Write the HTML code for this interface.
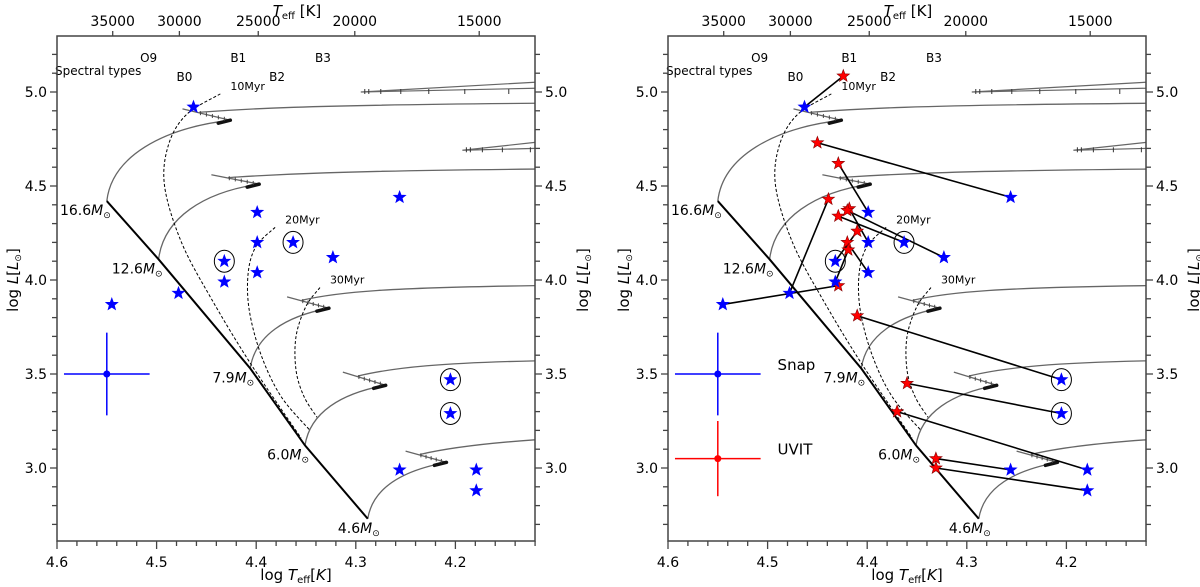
<!DOCTYPE html>
<html><head><meta charset="utf-8"><style>
html,body{margin:0;padding:0;background:#fff;}
svg{display:block;font-family:"DejaVu Sans","Liberation Sans",sans-serif;}
</style></head><body>
<svg id="chart" width="1200" height="587" viewBox="0 0 1200 587" xmlns="http://www.w3.org/2000/svg"></svg>
<script>
// ---- data (log Teff, log L) ----
const snapT = [4.463,4.399,4.399,4.432,4.363,4.399,4.432,4.323,4.256,4.478,4.545,4.205,4.205,4.256,4.179,4.179];
const snapL = [4.92,4.36,4.20,4.10,4.20,4.04,3.99,4.12,4.44,3.93,3.87,3.47,3.29,2.99,2.99,2.88];
const snapCircled = [3,4,11,12];
const uvitT = [4.424,4.429,4.418,4.410,4.429,4.420,4.419,4.420,4.450,4.439,4.429,4.410,4.360,4.331,4.370,4.331];
const uvitL = [5.085,4.62,4.38,4.26,4.34,4.20,4.16,4.37,4.73,4.43,3.97,3.81,3.45,3.05,3.30,3.00];
const zamsMass = ["16.6","12.6","7.9","6.0","4.6"];
const zamsT = [4.55,4.498,4.406,4.351,4.288];
const zamsL = [4.42,4.11,3.53,3.12,2.73];
const hookT = [4.426,4.397,4.327,4.270,4.209];
const hookL = [4.85,4.51,3.85,3.44,3.03];
const backT = [4.474,4.445,4.369,4.313,4.250];
const backL = [4.91,4.56,3.91,3.51,3.09];
const edgeL = [4.94,4.59,3.97,3.57,3.15];
const iso10T = [4.436,4.47,4.488,4.492,4.475,4.445,4.405,4.355];
const iso10L = [4.99,4.88,4.72,4.50,4.20,3.90,3.55,3.16];
const iso20T = [4.381,4.400,4.408,4.407,4.395,4.375,4.346];
const iso20L = [4.28,4.18,4.04,3.84,3.60,3.38,3.20];
const iso30T = [4.336,4.350,4.360,4.360,4.352,4.339];
const iso30L = [3.96,3.86,3.70,3.52,3.38,3.27];
const teffTicks = [35000,30000,25000,20000,15000];
const xTicks = [4.6,4.5,4.4,4.3,4.2];
const yTicks = [3.0,3.5,4.0,4.5,5.0];
const specNames = ["O9","B0","B1","B2","B3"];
const specT = [4.508,4.472,4.418,4.379,4.333];
const specRow = [0,1,0,1,0];

const NS="http://www.w3.org/2000/svg";
const svg=document.getElementById('chart');
function el(tag,attrs,parent){const e=document.createElementNS(NS,tag);for(const k in attrs)e.setAttribute(k,attrs[k]);(parent||svg).appendChild(e);return e;}
const PX=996, XL=57, XR=535, YT=36, YB=541;
function Y(l){return 92+(5-l)*188;}
function smooth(pts){let d='M'+pts[0][0]+','+pts[0][1];
  for(let i=0;i<pts.length-1;i++){const p0=pts[i-1]||pts[i],p1=pts[i],p2=pts[i+1],p3=pts[i+2]||p2;
    d+=` C${p1[0]+(p2[0]-p0[0])/6},${p1[1]+(p2[1]-p0[1])/6} ${p2[0]-(p3[0]-p1[0])/6},${p2[1]-(p3[1]-p1[1])/6} ${p2[0]},${p2[1]}`;}
  return d;}
function star(g,cx,cy,r,fill,stroke){
  let p=[];for(let i=0;i<10;i++){const a=-Math.PI/2+i*Math.PI/5;const rr=i%2?r*0.42:r;p.push((cx+rr*Math.cos(a)).toFixed(1)+','+(cy+rr*Math.sin(a)).toFixed(1));}
  return el('polygon',{points:p.join(' '),fill:fill,stroke:stroke,'stroke-width':0.6},g);
}
function txt(g,x,y,s,attrs){const t=el('text',Object.assign({x:x,y:y},attrs||{}),g);t.innerHTML=s;return t;}

function panel(ox,right){
  const X=lt=>ox+XL+(4.6-lt)*PX;
  const g=el('g',{});
  
  
  const defs=el('clipPath',{id:'clip'+ox},g);
  el('rect',{x:ox+XL,y:YT,width:XR-XL,height:YB-YT},defs);
  const pg=el('g',{'clip-path':'url(#clip'+ox+')'},g);
  // tracks
  for(let i=0;i<zamsT.length;i++){
    const x0=X(zamsT[i]),y0=Y(zamsL[i]),xh=X(hookT[i]),yh=Y(hookL[i]),xb=X(backT[i]),yb=Y(backL[i]);
    const ye=Y(edgeL[i]);
    const d=`M${x0},${y0} C${x0+5},${y0-(y0-yh)*0.55} ${xh-(xh-x0)*0.55},${yh+8} ${xh},${yh} L${xb},${yb} M${xb+(xh-xb)*0.35},${yb+(yh-yb)*0.3} C${xh+10},${ye+6} ${xh+60},${ye+2} ${ox+XR},${ye}`;
    const t=el('path',{d:d,fill:'none',stroke:'#666','stroke-width':1.3},pg);
    
    
    el('line',{x1:xh-12,y1:yh+3,x2:xh,y2:yh,stroke:'#111','stroke-width':3.5,'stroke-linecap':'round'},pg);
    for(let k=1;k<6;k++){const xx=xh+(xb-xh)*k/8,yy=yh+(yb-yh)*k/8;el('line',{x1:xx,y1:yy-2,x2:xx,y2:yy+2,stroke:'#444','stroke-width':1},pg);}
  }
  // upper horizontal branches with ticks
  [[4.295,5.0,5.02],[4.193,4.69,4.70]].forEach(b=>{
    el('path',{d:`M${X(b[0])},${Y(b[1])} L${ox+XR},${Y(b[2])} M${X(b[0])},${Y(b[1])} L${ox+XR},${Y(b[2])-6}`,stroke:'#666','stroke-width':1.2,fill:'none'},pg);
    for(let k=0;k<9;k++){const xx=X(b[0])+k*k*4+4;el('line',{x1:xx,y1:Y(b[1])-3,x2:xx,y2:Y(b[1])+2,stroke:'#333','stroke-width':1},pg);}
  });
  // isochrones
  [[iso10T,iso10L,'10Myr'],[iso20T,iso20L,'20Myr'],[iso30T,iso30L,'30Myr']].forEach(s=>{
    const pts=s[0].map((t,i)=>[X(t),Y(s[1][i])]);
    const p=el('path',{d:smooth(pts),fill:'none',stroke:'#000','stroke-width':1,'stroke-dasharray':'3,2'},pg);
    
    
    const lb=txt(pg,X(s[0][0])+10,Y(s[1][0])-4,s[2],{'font-size':11});
    
    
  });
  // ZAMS
  let zd='';zamsT.forEach((t,i)=>{zd+=(i?'L':'M')+X(t)+','+Y(zamsL[i]);});
  const z=el('path',{d:zd,fill:'none',stroke:'#000','stroke-width':2},pg);
  
  
  zamsT.forEach((t,i)=>{
    const lb=txt(g,X(t)+(i==4?12:4),Y(zamsL[i])+14,zamsMass[i]+'<tspan font-style="italic">M</tspan><tspan font-size="9" dy="3">⊙</tspan>',{'font-size':14,'text-anchor':'end'});
    
    
  });
  // spectral types
  const st=txt(g,ox+XL-2,75,'Spectral types',{'font-size':12});
  
  
  specNames.forEach((s,i)=>{const t=txt(g,X(specT[i]),specRow[i]?81:62,s,{'font-size':12,'text-anchor':'middle'});
    
    });
  // connectors + uvit
  if(right){
    snapT.forEach((t,i)=>{const l=el('line',{x1:X(t),y1:Y(snapL[i]),x2:X(uvitT[i]),y2:Y(uvitL[i]),stroke:'#000','stroke-width':1.6},pg);
      
      });
    uvitT.forEach((t,i)=>{const s=star(pg,X(t),Y(uvitL[i]),6.5,'#f00','#800');
      
      });
  }
  snapT.forEach((t,i)=>{const s=star(pg,X(t),Y(snapL[i]),6.5,'#00f','#00f');
    
    });
  snapCircled.forEach(i=>{const c=el('ellipse',{cx:X(snapT[i]),cy:Y(snapL[i]),rx:10,ry:11,fill:'none',stroke:'#000','stroke-width':1},pg);
    
    });
  // error bars
  const eb=(l,col,dl,name,lbl)=>{
    const gg=el('g',{},g);
    
    
    el('line',{x1:X(4.593),y1:Y(l),x2:X(4.507),y2:Y(l),stroke:col,'stroke-width':1.5},gg);
    el('line',{x1:X(4.55),y1:Y(l+dl),x2:X(4.55),y2:Y(l-dl),stroke:col,'stroke-width':1.5},gg);
    el('circle',{cx:X(4.55),cy:Y(l),r:3.5,fill:col},gg);
    if(lbl)txt(gg,X(4.49),Y(l)-4,lbl,{'font-size':15});
  };
  eb(3.5,'#00f',0.22,'snap-error-bar',right?'Snap':null);
  if(right)eb(3.05,'#f00',0.2,'uvit-error-bar','UVIT');
  // frame
  const f=el('rect',{x:ox+XL,y:YT,width:XR-XL,height:YB-YT,fill:'none',stroke:'#444','stroke-width':1.5},g);
  
  
  for(let k=0;k<=24;k++){const lt=4.6-k*0.02;const x=X(lt);if(x>ox+XR+0.5)break;
    const major=k%5==0;el('line',{x1:x,y1:YB,x2:x,y2:YB+(major?8:5),stroke:'#444','stroke-width':1.3},g);}
  xTicks.forEach(v=>{const t=txt(g,X(v),YB+26,v.toFixed(1),{'font-size':14,'text-anchor':'middle'});
    
    });
  const xl=txt(g,ox+296,580,'log <tspan font-style="italic">T</tspan><tspan font-size="10" dy="3">eff</tspan><tspan dy="-3">[</tspan><tspan font-style="italic">K</tspan>]',{'font-size':15,'text-anchor':'middle'});
  
  
  teffTicks.forEach(v=>{const x=X(Math.log10(v));el('line',{x1:x,y1:YT,x2:x,y2:YT-5,stroke:'#444','stroke-width':1.3},g);
    const t=txt(g,x,YT-10,v,{'font-size':14,'text-anchor':'middle'});
    
    });
  const tl=txt(g,ox+297,16,'<tspan font-style="italic">T</tspan><tspan font-size="10" dy="3">eff</tspan><tspan dy="-3"> [K]</tspan>',{'font-size':15,'text-anchor':'middle'});
  
  
  for(let k=27;k<=53;k++){const l=k/10;const y=Y(l);if(y<YT||y>YB)continue;const major=k%5==0;
    el('line',{x1:ox+XL,y1:y,x2:ox+XL-(major?7:5),y2:y,stroke:'#444','stroke-width':1.3},g);
    el('line',{x1:ox+XR,y1:y,x2:ox+XR+(major?7:5),y2:y,stroke:'#444','stroke-width':1.3},g);}
  yTicks.forEach(v=>{
    const a=txt(g,ox+XL-10,Y(v)+5,v.toFixed(1),{'font-size':14,'text-anchor':'end'});
    
    
    const b=txt(g,ox+XR+10,Y(v)+5,v.toFixed(1),{'font-size':14});
    
    
  });
  const ylab='log <tspan font-style="italic">L</tspan>[<tspan font-style="italic">L</tspan><tspan font-size="9" dy="3">⊙</tspan><tspan dy="-3">]</tspan>';
  const y1=txt(g,0,0,ylab,{'font-size':15,'text-anchor':'middle',transform:`translate(${ox+18},${Y(4.0)}) rotate(-90)`});
  
  
  const y2=txt(g,0,0,ylab,{'font-size':15,'text-anchor':'middle',transform:`translate(${ox+588},${Y(4.0)}) rotate(-90)`});
  
  
}
panel(0,false);
panel(611,true);
</script>
</body></html>
